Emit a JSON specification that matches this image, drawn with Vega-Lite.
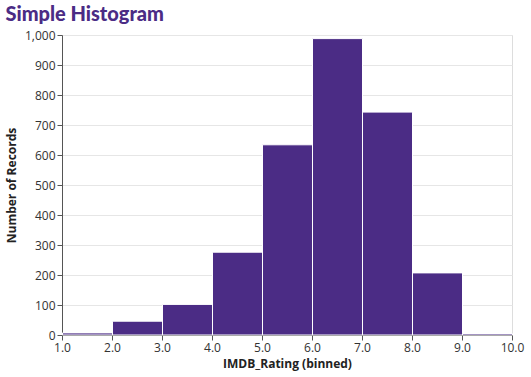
{
  "$schema": "https://vega.github.io/schema/vega-lite/v6.json",
  "width": 450,
  "height": 300,
  "title": {"text": "Simple Histogram", "anchor": "start", "font": "Lato", "fontSize": 20, "fontWeight": 900, "color": "#4b2c85", "offset": 4},
  "config": {
    "font": "Open Sans",
    "view": {"stroke": "#ddd"},
    "axis": {"labelFont": "Open Sans", "titleFont": "Open Sans", "labelFontSize": 12, "titleFontSize": 12, "titleFontWeight": "bold", "labelColor": "#333", "titleColor": "#222", "domainColor": "#555", "tickColor": "#555", "gridColor": "#e6e6e6"}
  },
  "data": {"values": [
    {"bin_start": 1, "bin_end": 2, "count": 7},
    {"bin_start": 2, "bin_end": 3, "count": 46},
    {"bin_start": 3, "bin_end": 4, "count": 102},
    {"bin_start": 4, "bin_end": 5, "count": 276},
    {"bin_start": 5, "bin_end": 6, "count": 634},
    {"bin_start": 6, "bin_end": 7, "count": 988},
    {"bin_start": 7, "bin_end": 8, "count": 743},
    {"bin_start": 8, "bin_end": 9, "count": 207},
    {"bin_start": 9, "bin_end": 10, "count": 5}
  ]},
  "mark": {"type": "bar", "color": "#4b2c85", "stroke": "white", "strokeWidth": 1, "binSpacing": 0},
  "encoding": {
    "x": {"field": "bin_start", "type": "quantitative", "bin": {"binned": true, "step": 1}, "scale": {"domain": [1, 10]}, "axis": {"title": "IMDB_Rating (binned)", "format": ".1f", "labelFlush": false, "titlePadding": 5, "values": [1,2,3,4,5,6,7,8,9,10]}},
    "x2": {"field": "bin_end"},
    "y": {"field": "count", "type": "quantitative", "title": "Number of Records", "scale": {"domain": [0, 1000]}, "axis": {"titlePadding": 6}}
  }
}
